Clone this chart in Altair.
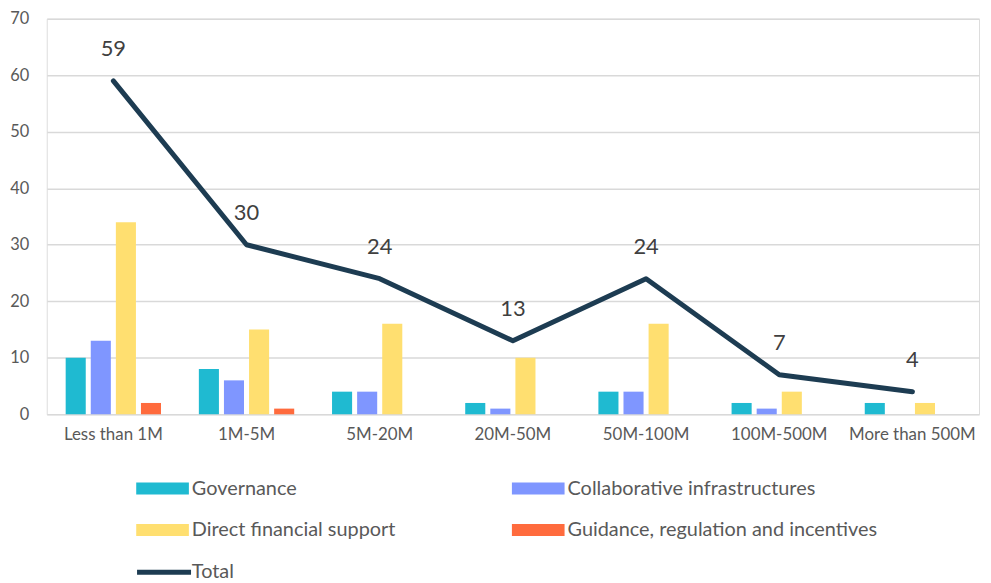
import altair as alt
import pandas as pd

categories = ["Less than 1M", "1M-5M", "5M-20M", "20M-50M", "50M-100M", "100M-500M", "More than 500M"]
series = ["Governance", "Collaborative infrastructures", "Direct financial support", "Guidance, regulation and incentives"]
governance = [10, 8, 4, 2, 4, 2, 2]
collaborative = [13, 6, 4, 1, 4, 1, 0]
direct = [34, 15, 16, 10, 16, 4, 2]
guidance = [2, 1, 0, 0, 0, 0, 0]
total = [59, 30, 24, 13, 24, 7, 4]
colors = ["#1FBAD1", "#7F96FF", "#FFDF70", "#FF6B3D"]

rows = []
for s, vals in zip(series, [governance, collaborative, direct, guidance]):
    for c, v in zip(categories, vals):
        rows.append({"cat": c, "series": s, "value": v})
bars_df = pd.DataFrame(rows)
total_df = pd.DataFrame({"cat": categories, "total": total, "name": ["Total"] * len(categories)})

# legend fills column by column: order the colour domain so rows read as in the reference
legend_order = [series[0], series[2], series[1], series[3]]
legend_colors = [colors[0], colors[2], colors[1], colors[3]]

FONT = "Lato"
TXT = "#595959"
x_scale = alt.Scale(domain=categories, paddingInner=0.284, paddingOuter=0.142)
y_scale = alt.Scale(domain=[0, 70])

bars = alt.Chart(bars_df).mark_bar().encode(
    x=alt.X("cat:N", scale=x_scale, sort=categories, title=None,
            axis=alt.Axis(labelAngle=0, labelFontSize=17, labelColor=TXT, labelFont=FONT,
                          ticks=False, domain=False, labelPadding=12, grid=False)),
    xOffset=alt.XOffset("series:N", sort=series, scale=alt.Scale(domain=series, paddingInner=0.2)),
    y=alt.Y("value:Q", scale=y_scale, title=None,
            axis=alt.Axis(values=list(range(0, 71, 10)), labelFontSize=16.5, labelColor=TXT,
                          labelFont=FONT, ticks=False, domain=False, labelPadding=18,
                          gridColor="#D9D9D9", gridWidth=1.5)),
    color=alt.Color("series:N", sort=legend_order,
                    scale=alt.Scale(domain=legend_order, range=legend_colors),
                    legend=alt.Legend(title=None, orient="none", legendX=103, legendY=459,
                                      columns=2, columnPadding=117, rowPadding=18,
                                      symbolType="M-2,-0.46H2V0.46H-2Z", symbolSize=702,
                                      symbolStrokeWidth=0, labelFontSize=20, labelColor=TXT,
                                      labelFont=FONT, labelOffset=16, labelLimit=400)),
)

line = alt.Chart(total_df).mark_line(strokeWidth=5, strokeCap="round", strokeJoin="round").encode(
    x=alt.X("cat:N", scale=x_scale, sort=categories),
    y=alt.Y("total:Q", scale=y_scale),
    stroke=alt.Stroke("name:N", scale=alt.Scale(domain=["Total"], range=["#1D3C52"]),
                      legend=alt.Legend(title=None, orient="none", legendX=102, legendY=541,
                                        symbolType="M-2.05,0H2.05", symbolSize=702, symbolStrokeWidth=5,
                                        labelFontSize=20, labelColor=TXT, labelFont=FONT,
                                        labelOffset=12)),
)

labels = alt.Chart(total_df).mark_text(dy=-32, fontSize=22, color="#404040", font=FONT).encode(
    x=alt.X("cat:N", scale=x_scale, sort=categories),
    y=alt.Y("total:Q", scale=y_scale),
    text="total:Q",
)

chart = alt.layer(bars, line, labels).resolve_scale(color="independent", stroke="independent").properties(
    width=938, height=398,
    autosize=alt.AutoSizeParams(type="none"),
    padding={"left": 39, "top": 9, "right": 4, "bottom": 168},
).configure_view(stroke=None).configure(background="white")

chart.save("out.html", embed_options={"renderer": "svg", "actions": False})
